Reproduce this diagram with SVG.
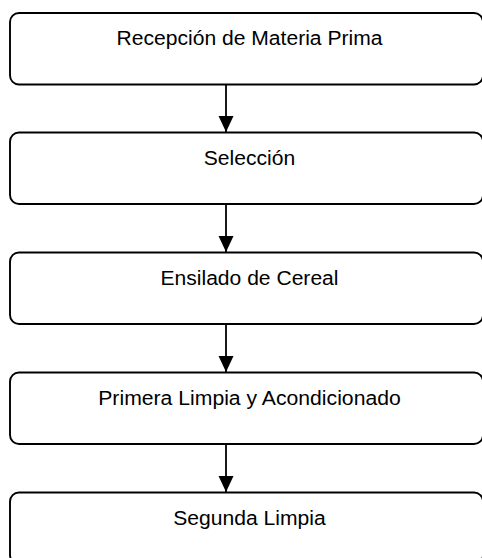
<svg xmlns="http://www.w3.org/2000/svg" width="482" height="558" viewBox="0 0 482 558">
  <style>
    .box { fill: #ffffff; stroke: #000000; stroke-width: 1.9; }
    .lbl { font-family: "Liberation Sans", Arial, sans-serif; font-size: 19.5px; fill: #000000; text-anchor: middle; }
    .conn { stroke: #000000; stroke-width: 1.8; fill: none; }
  </style>
  <defs>
    <marker id="arrow" markerUnits="userSpaceOnUse" markerWidth="16" markerHeight="16" refX="16" refY="7.5" orient="auto">
      <path d="M0,0 L16,7.5 L0,15 z" fill="#000000"/>
    </marker>
  </defs>
  <rect width="482" height="558" fill="#ffffff"/>
  <g id="connectors">
    <line class="conn" x1="226" y1="84.5" x2="226" y2="132" marker-end="url(#arrow)"/>
    <line class="conn" x1="226" y1="204" x2="226" y2="252" marker-end="url(#arrow)"/>
    <line class="conn" x1="226" y1="324" x2="226" y2="372" marker-end="url(#arrow)"/>
    <line class="conn" x1="226" y1="444" x2="226" y2="492" marker-end="url(#arrow)"/>
  </g>
  <g id="n1">
    <rect class="box" x="10" y="13" width="473" height="71.5" rx="9"/>
    <text class="lbl" x="249.5" y="44.5" textLength="266" lengthAdjust="spacingAndGlyphs">Recepción de Materia Prima</text>
  </g>
  <g id="n2">
    <rect class="box" x="10" y="132.5" width="473" height="71.5" rx="9"/>
    <text class="lbl" x="249.5" y="164.5" textLength="91.5" lengthAdjust="spacingAndGlyphs">Selección</text>
  </g>
  <g id="n3">
    <rect class="box" x="10" y="252.5" width="473" height="71.5" rx="9"/>
    <text class="lbl" x="249.5" y="284.5" textLength="178" lengthAdjust="spacingAndGlyphs">Ensilado de Cereal</text>
  </g>
  <g id="n4">
    <rect class="box" x="10" y="372.5" width="473" height="71.5" rx="9"/>
    <text class="lbl" x="249.5" y="404.5" textLength="302.5" lengthAdjust="spacingAndGlyphs">Primera Limpia y Acondicionado</text>
  </g>
  <g id="n5">
    <rect class="box" x="10" y="492.5" width="473" height="71.5" rx="9"/>
    <text class="lbl" x="249.5" y="524.8" textLength="152.5" lengthAdjust="spacingAndGlyphs">Segunda Limpia</text>
  </g>
</svg>
